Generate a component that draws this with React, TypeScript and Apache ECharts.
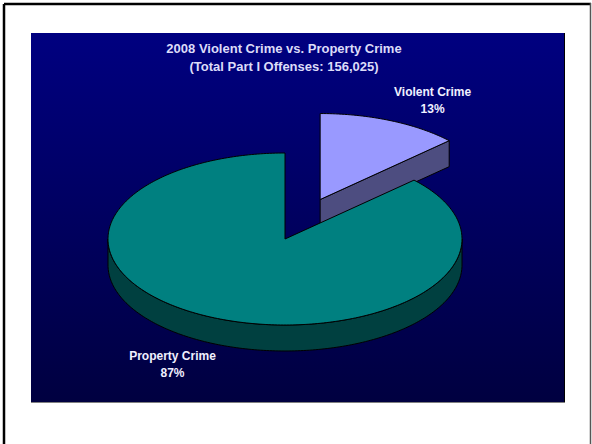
import React, { useEffect, useRef } from "react";
import * as echarts from "echarts";

const categories = ["Violent Crime", "Property Crime"];
const percents = [13, 87];
const titleLines = ["2008 Violent Crime vs. Property Crime", "(Total Part I Offenses: 156,025)"];

const PIE = { cx: 285, cy: 239, rx: 177, ry: 86, depth: 26 };
const EXPLODE = [0.5, 0];
const TOP_COLORS = ["#9999ff", "#008080"];
const SIDE_COLORS = ["#4d4d80", "#004040"];
const FONT = '"Liberation Sans", Arial, sans-serif';

function renderSlice(params: any, api: any) {
  const i = params.dataIndex;
  const v = api.value(0);
  const total = percents.reduce((a, b) => a + b, 0);
  let start = 0;
  for (let k = 0; k < i; k++) start += percents[k];
  const TAU = Math.PI * 2;
  const a0 = (start / total) * TAU;
  const a1 = ((start + v) / total) * TAU;
  const mid = (a0 + a1) / 2;
  const ex = EXPLODE[i] || 0;
  const { rx, ry, depth } = PIE;
  const cx = PIE.cx + ex * rx * Math.sin(mid);
  const cy = PIE.cy - ex * ry * Math.cos(mid);
  const pt = (a: number, dy = 0) => [cx + rx * Math.sin(a), cy - ry * Math.cos(a) + dy];
  const arc = (b0: number, b1: number, dy: number) => {
    const n = Math.max(2, Math.ceil((b1 - b0) / (Math.PI / 180)));
    const out: number[][] = [];
    for (let s = 0; s <= n; s++) out.push(pt(b0 + ((b1 - b0) * s) / n, dy));
    return out;
  };
  const base = Math.round((1 - Math.cos(mid)) * 10) * 10;
  const children: any[] = [];
  const side = SIDE_COLORS[i];
  const top = TOP_COLORS[i];
  const edge = { stroke: "#000", lineWidth: 1, lineJoin: "round" };

  const w0 = Math.max(a0, Math.PI / 2);
  const w1 = Math.min(a1, (3 * Math.PI) / 2);
  if (w1 > w0) {
    children.push({
      type: "polygon",
      z2: base + 1,
      shape: { points: [...arc(w0, w1, 0), ...arc(w0, w1, depth).reverse()] },
      style: { fill: side, ...edge },
    });
  }
  if (Math.sin(a1) > 1e-6) {
    children.push({
      type: "polygon",
      z2: base + 2,
      shape: { points: [[cx, cy], pt(a1), pt(a1, depth), [cx, cy + depth]] },
      style: { fill: side, ...edge },
    });
  }
  if (Math.sin(a0) < -1e-6) {
    children.push({
      type: "polygon",
      z2: base + 2,
      shape: { points: [[cx, cy], pt(a0), pt(a0, depth), [cx, cy + depth]] },
      style: { fill: side, ...edge },
    });
  }
  children.push({
    type: "polygon",
    z2: base + 3,
    shape: { points: [[cx, cy], ...arc(a0, a1, 0)] },
    style: { fill: top, ...edge },
  });
  const lx = cx + rx * 1.6 * Math.sin(mid);
  const ly = cy - ry * 1.26 * Math.cos(mid) + (Math.cos(mid) < 0 ? depth : 0);
  children.push({
    type: "text",
    z2: 500,
    style: {
      x: lx,
      y: ly,
      text: `${categories[i]}\n${v}%`,
      fill: "#f0f0ff",
      font: `bold 12px ${FONT}`,
      align: "center",
      verticalAlign: "middle",
      lineHeight: 17,
    },
  });
  return { type: "group", children };
}

export default function App() {
  const ref = useRef<HTMLDivElement>(null);
  useEffect(() => {
    if (!ref.current) return;
    const chart = echarts.init(ref.current, undefined, { renderer: "svg" });
    chart.setOption({
      animation: false,
      backgroundColor: "#ffffff",
      graphic: [
        {
          type: "rect",
          z: 0,
          shape: { x: 31, y: 33, width: 533, height: 369 },
          style: {
            fill: new echarts.graphic.LinearGradient(0, 0, 0, 1, [
              { offset: 0, color: "#000080" },
              { offset: 1, color: "#000040" },
            ]),
          },
        },
        { type: "line", z: 0, shape: { x1: 564.5, y1: 33, x2: 564.5, y2: 403 }, style: { stroke: "#000", lineWidth: 1 } },
        { type: "line", z: 0, shape: { x1: 31, y1: 402.5, x2: 565, y2: 402.5 }, style: { stroke: "#808080", lineWidth: 1 } },
        { type: "line", z: 0, shape: { x1: 4, y1: 4, x2: 591, y2: 4 }, style: { stroke: "#000", lineWidth: 2.5 } },
        { type: "line", z: 0, shape: { x1: 4, y1: 4, x2: 4, y2: 444 }, style: { stroke: "#000", lineWidth: 2.5 } },
        { type: "line", z: 0, shape: { x1: 590.5, y1: 3, x2: 590.5, y2: 444 }, style: { stroke: "#555", lineWidth: 1.5 } },
        {
          type: "text",
          z: 100,
          style: {
            x: 284,
            y: 57,
            text: titleLines.join("\n"),
            fill: "#dcdcf8",
            font: `bold 13px ${FONT}`,
            align: "center",
            verticalAlign: "middle",
            lineHeight: 18,
          },
        },
      ],
      series: [
        {
          type: "custom",
          coordinateSystem: "none",
          silent: true,
          z: 5,
          data: percents.map((v, i) => ({ name: categories[i], value: [v] })),
          renderItem: renderSlice,
        },
      ],
    });
    return () => chart.dispose();
  }, []);
  return (
    <div
      ref={ref}
      style={{ position: "fixed", left: 0, top: 0, width: 592, height: 444 }}
    />
  );
}
